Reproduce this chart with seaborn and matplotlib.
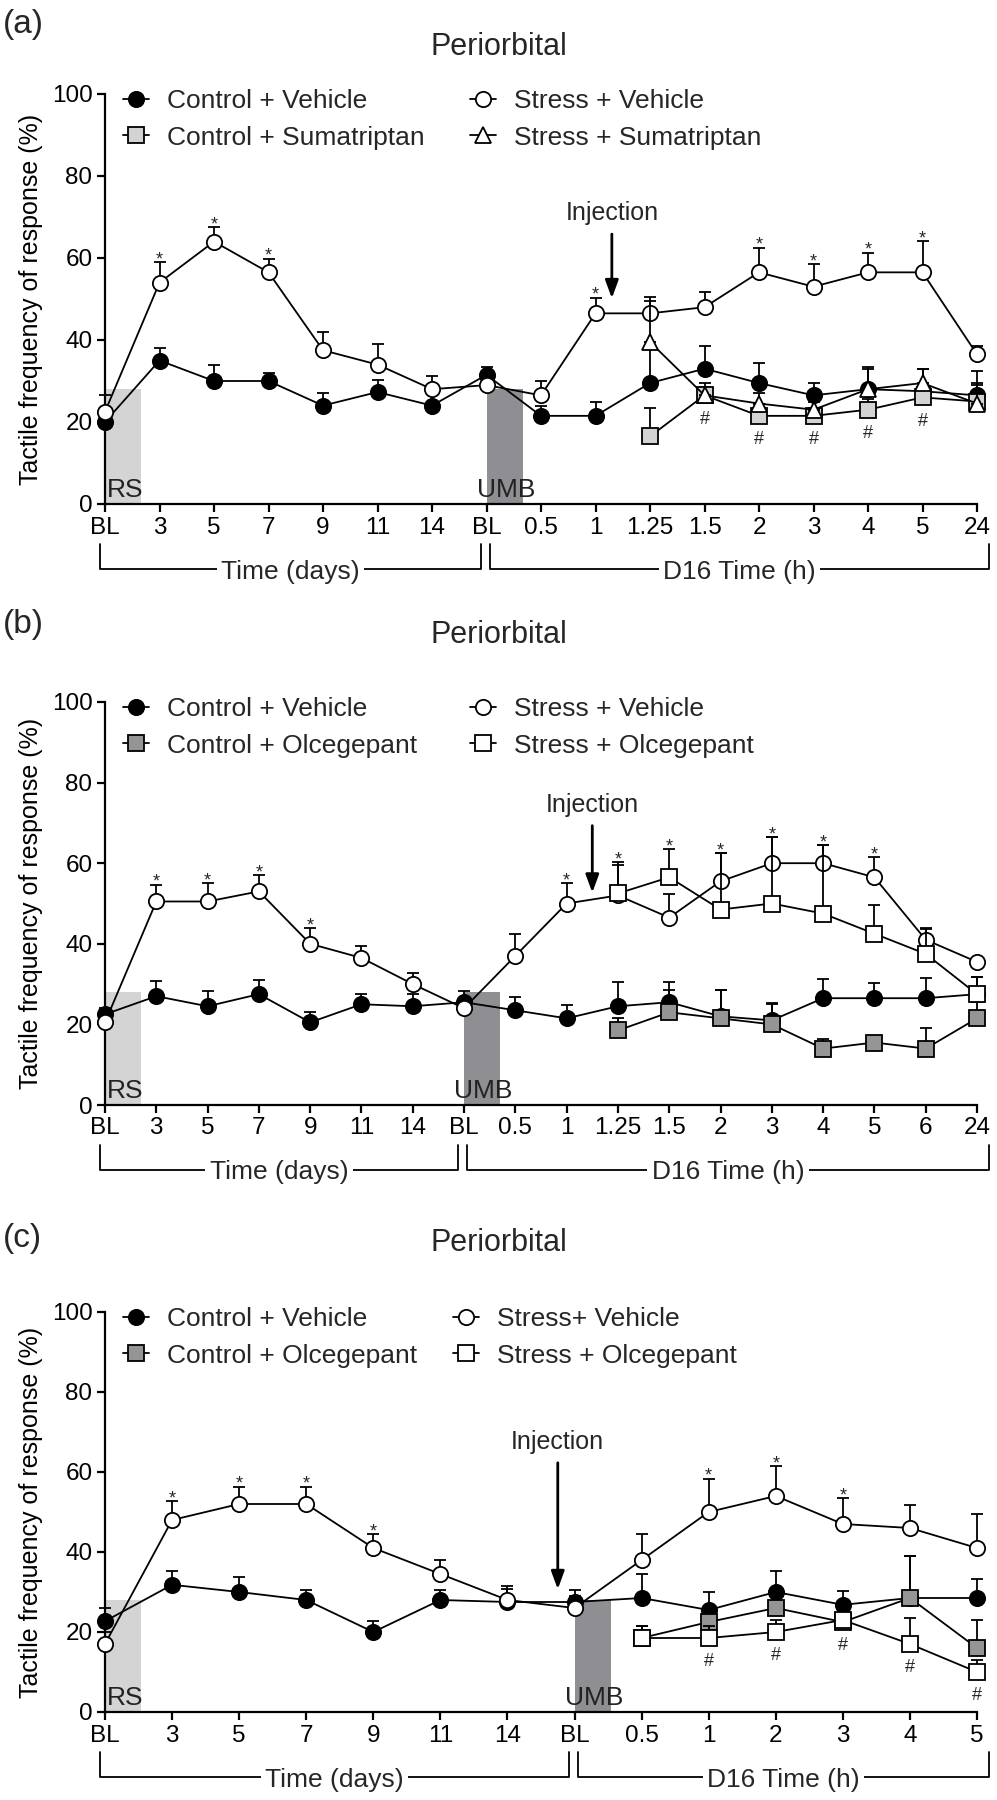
import numpy as np
import matplotlib

matplotlib.use("Agg")
import matplotlib.pyplot as plt
import seaborn as sns
from matplotlib.lines import Line2D
from matplotlib.patches import Rectangle

sns.set_style("ticks")
plt.rcParams["font.family"] = ["Liberation Sans", "DejaVu Sans"]

# ---------------- panel (a): sumatriptan ----------------
a_ticks = ["BL", "3", "5", "7", "9", "11", "14", "BL", "0.5", "1", "1.25",
           "1.5", "2", "3", "4", "5", "24"]
a_ctrl_veh = [20, 35, 30, 30, 24, 27.3, 24, 31.5, 21.5, 21.5, 29.5, 33, 29.5,
              26.5, 28, 27.5, 26.5]
a_ctrl_veh_err = [2, 3, 4, 2, 3, 3, 3, 2, 2.5, 3.5, 8.5, 5.5, 5, 3, 5.5, 5.5, 6]
a_str_veh = [22.5, 54, 64, 56.5, 37.5, 34, 28, 29, 26.5, 46.5, 46.5, 48, 56.5,
             53, 56.5, 56.5, 36.5]
a_str_veh_err = [4, 5, 3.5, 3.3, 4.5, 5, 3.2, 2, 3.6, 3.8, 4, 3.8, 6, 5.5, 4.8,
                 7.6, 2]
a_ctrl_drug = [16.5, 26.5, 21.5, 21.5, 23, 26, 25]
a_ctrl_drug_err = [7, 2, 2, 2, 2.5, 1.5, 4.5]
a_str_drug = [39.5, 26.5, 24.5, 23, 28, 29.5, 24.5]
a_str_drug_err = [10, 3, 2.5, 2, 5, 3.5, 4.5]
a_stars = [1, 2, 3, 9, 12, 13, 14, 15]
a_hashes = [11, 12, 13, 14, 15]

# ---------------- panel (b): olcegepant ----------------
b_ticks = ["BL", "3", "5", "7", "9", "11", "14", "BL", "0.5", "1", "1.25",
           "1.5", "2", "3", "4", "5", "6", "24"]
b_ctrl_veh = [22.5, 27, 24.5, 27.5, 20.5, 25, 24.5, 25.5, 23.5, 21.5, 24.5,
              25.5, 22, 21, 26.5, 26.5, 26.5, 27.5]
b_ctrl_veh_err = [1.5, 3.8, 3.8, 3.4, 2.7, 2.6, 3, 2.8, 3.4, 3.4, 6, 5, 6.5,
                  4.2, 4.7, 3.8, 5, 4.3]
b_str_veh = [20.5, 50.5, 50.5, 53, 40, 36.5, 30, 24, 37, 50, 52, 46.5, 55.5,
             60, 60, 56.5, 41, 35.5]
b_str_veh_err = [2, 4.2, 4.5, 4, 3.8, 3, 2.8, 2, 5.4, 5, 7.5, 5.8, 7, 6.5,
                 4.4, 5, 2.7, 1]
b_ctrl_drug = [18.5, 23, 21.5, 20, 14, 15.5, 14, 21.5]
b_ctrl_drug_err = [3, 5.5, 7, 5, 2.5, 1, 5, 4]
b_str_drug = [52.5, 56.5, 48.5, 50, 47.5, 42.5, 37.5, 27.5]
b_str_drug_err = [7.7, 7, 14, 16.5, 17, 7.2, 6.3, 4.3]
b_stars = [1, 2, 3, 4, 9, 10, 11, 12, 13, 14, 15]
b_hashes = []

# ---------------- panel (c): olcegepant ----------------
c_ticks = ["BL", "3", "5", "7", "9", "11", "14", "BL", "0.5", "1", "2", "3",
           "4", "5"]
c_ctrl_veh = [22.7, 31.8, 30, 28, 20, 28, 27.5, 27.5, 28.5, 25.5, 30, 26.8,
              28.5, 28.5]
c_ctrl_veh_err = [3.3, 3.5, 3.8, 2.4, 2.8, 2.5, 3.2, 3, 6, 4.5, 5.3, 3.5, 10.5,
                  4.8]
c_str_veh = [17, 48, 52, 52, 41, 34.5, 28, 26, 38, 50, 54, 47, 46, 41]
c_str_veh_err = [3, 4.7, 4.3, 4.3, 3.4, 3.6, 3.5, 3, 6.4, 8.3, 7.5, 6.5, 5.8,
                 8.5]
c_ctrl_drug = [18.5, 22.5, 26, 22.5, 28.5, 16]
c_ctrl_drug_err = [3, 4, 4, 3, 10.5, 7]
c_str_drug = [18.5, 18.5, 20, 23, 17, 10]
c_str_drug_err = [3, 3, 3, 3, 6.5, 3]
c_stars = [1, 2, 3, 4, 9, 10, 11]
c_hashes = [9, 10, 11, 12, 13]

W, H = 997, 1800
AX_LEFT, AX_RIGHT = 105, 977
LW = 1.3


def draw_panel(fig, top, bottom, ticks, groups, stars, hashes, injection,
               col2_x, letter, letter_y, title_y):
    ax = fig.add_axes([AX_LEFT / W, 1 - bottom / H,
                       (AX_RIGHT - AX_LEFT) / W, (bottom - top) / H])
    n = len(ticks)
    pos = np.arange(n)
    step = (AX_RIGHT - AX_LEFT) / (n - 1)
    bl2 = ticks.index("BL", 1)

    # stress / surgery shaded bands
    band_w = 36 / step
    ax.add_patch(Rectangle((0, 0), band_w, 28, facecolor="#d4d4d4",
                           edgecolor="none", zorder=0))
    ax.add_patch(Rectangle((bl2, 0), band_w, 28, facecolor="#8f8f93",
                           edgecolor="none", zorder=0))
    ax.text(2 / step, 1.8, "RS", fontsize=19, va="baseline", color="#222222")
    ax.text(bl2 - 10 / step, 1.8, "UMB", fontsize=19, va="baseline",
            color="#222222")

    tops = {}
    lows = {}
    handles = []
    for i, (label, vals, errs, start, marker, fc, ms) in enumerate(groups):
        xs = pos[start:start + len(vals)]
        vals = np.asarray(vals, dtype=float)
        errs = np.asarray(errs, dtype=float)
        z = 2 + i
        eb = ax.errorbar(xs, vals, yerr=[np.zeros_like(errs), errs], fmt="none",
                         ecolor="black", elinewidth=LW, capsize=4.5,
                         capthick=LW, zorder=z)
        for art in eb.get_children():
            art.set_clip_on(False)
        sns.lineplot(x=xs, y=vals, ax=ax, color="black", linewidth=LW,
                     marker=marker, markersize=ms, markerfacecolor=fc,
                     markeredgecolor="black", markeredgewidth=LW,
                     zorder=z + 0.5, clip_on=False, legend=False,
                     errorbar=None, sort=False)
        for x, v, e in zip(xs, vals, errs):
            tops[x] = max(tops.get(x, 0), v + e)
            lows[x] = min(lows.get(x, 100), v)
        handles.append(Line2D([], [], color="black", lw=LW, marker=marker,
                              ms=ms, mfc=fc, mec="black", mew=LW, label=label))

    for p in stars:
        ax.text(p, tops[p] - 0.5, "*", ha="center", va="baseline", fontsize=13)
    for p in hashes:
        ax.text(p, lows[p] - 5.8, "#", ha="center", va="center", fontsize=13)

    ix, itop, itip = injection
    ax.annotate("", xy=(ix, itip), xytext=(ix, itop),
                arrowprops=dict(arrowstyle="-|>,head_length=0.6,head_width=0.22",
                                color="black", lw=2, mutation_scale=18))
    ax.text(ix, itop + 1.5, "Injection", ha="center", va="bottom", fontsize=18)

    ax.set_xlim(0, n - 1)
    ax.set_ylim(0, 100)
    ax.set_xticks(pos)
    ax.set_xticklabels(ticks)
    ax.set_yticks(range(0, 101, 20))
    sns.despine(ax=ax)
    for side in ("left", "bottom"):
        ax.spines[side].set_linewidth(1.6)
        ax.spines[side].set_color("black")
    ax.tick_params(length=6, width=1.6, labelsize=17.5, color="black",
                   labelcolor="black", pad=3)
    ax.set_ylabel("Tactile frequency of response (%)", fontsize=18,
                  labelpad=6, color="black")

    # time brackets under the axis
    tr = ax.get_xaxis_transform()
    h = bottom - top
    y_hi, y_lo = -40 / h, -65 / h

    def bracket(x0, x1, label):
        ax.plot([x0, x0, x1, x1], [y_hi, y_lo, y_lo, y_hi], color="black",
                lw=LW, transform=tr, clip_on=False)
        ax.text((x0 + x1) / 2, y_lo, label, transform=tr, ha="center",
                va="center_baseline", fontsize=19, clip_on=False,
                bbox=dict(facecolor="white", edgecolor="none", pad=3))

    bracket(-5 / step, bl2 - 6 / step, "Time (days)")
    bracket(bl2 + 3 / step, n - 1 + 12 / step, "D16 Time (h)")

    # controls in the first legend column, stress groups in the second
    leg_kw = dict(loc="upper left", frameon=False, fontsize=19,
                  handlelength=1.0, handletextpad=0.65, labelspacing=0.48,
                  borderpad=0, borderaxespad=0, bbox_transform=fig.transFigure)
    fig.legend(handles=[handles[0], handles[2]],
               bbox_to_anchor=(123 / W, 1 - (top - 5) / H), **leg_kw)
    fig.legend(handles=[handles[1], handles[3]],
               bbox_to_anchor=(col2_x / W, 1 - (top - 5) / H), **leg_kw)

    fig.text(3 / W, 1 - letter_y / H, letter, fontsize=24, va="center")
    fig.text(0.5, 1 - title_y / H, "Periorbital", fontsize=22, ha="center",
             va="center")
    return ax


def main():
    fig = plt.figure(figsize=(W / 100, H / 100), dpi=100)

    draw_panel(
        fig, 94, 504, a_ticks,
        [("Control + Vehicle", a_ctrl_veh, a_ctrl_veh_err, 0, "o", "black", 11),
         ("Stress + Vehicle", a_str_veh, a_str_veh_err, 0, "o", "white", 11),
         ("Control + Sumatriptan", a_ctrl_drug, a_ctrl_drug_err, 10, "s", "#d3d3d3", 11),
         ("Stress + Sumatriptan", a_str_drug, a_str_drug_err, 10, "^", "white", 12)],
        a_stars, a_hashes, (9.3, 66.5, 49.5), 470, "(a)", 25, 47,
    )
    draw_panel(
        fig, 702, 1105, b_ticks,
        [("Control + Vehicle", b_ctrl_veh, b_ctrl_veh_err, 0, "o", "black", 11),
         ("Stress + Vehicle", b_str_veh, b_str_veh_err, 0, "o", "white", 11),
         ("Control + Olcegepant", b_ctrl_drug, b_ctrl_drug_err, 10, "s", "#959595", 11),
         ("Stress + Olcegepant", b_str_drug, b_str_drug_err, 10, "s", "white", 11)],
        b_stars, b_hashes, (9.5, 70, 52), 470, "(b)", 625, 635,
    )
    draw_panel(
        fig, 1312, 1712, c_ticks,
        [("Control + Vehicle", c_ctrl_veh, c_ctrl_veh_err, 0, "o", "black", 11),
         ("Stress+ Vehicle", c_str_veh, c_str_veh_err, 0, "o", "white", 11),
         ("Control + Olcegepant", c_ctrl_drug, c_ctrl_drug_err, 8, "s", "#959595", 11),
         ("Stress + Olcegepant", c_str_drug, c_str_drug_err, 8, "s", "white", 11)],
        c_stars, c_hashes, (6.75, 63, 30), 453, "(c)", 1239, 1243,
    )

    fig.savefig("out.png", dpi=100)
    plt.close(fig)


if __name__ == "__main__":
    main()
